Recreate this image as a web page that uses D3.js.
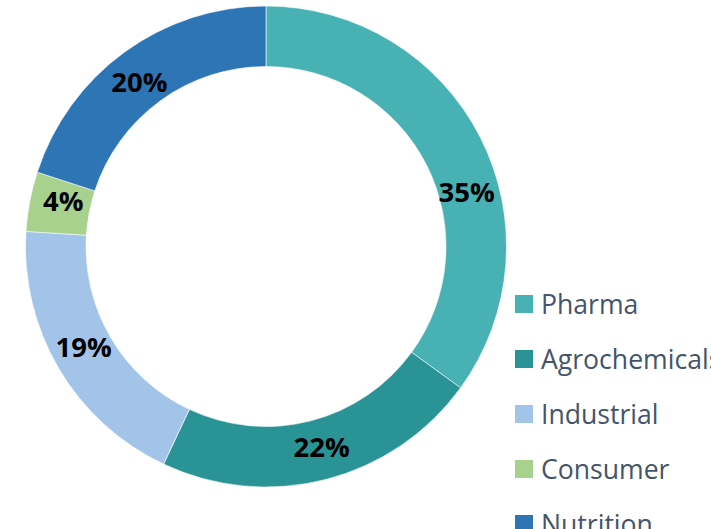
<!DOCTYPE html>
<html><head><meta charset="utf-8">
<script src="https://cdn.jsdelivr.net/npm/d3@7"></script>
<style>html,body{margin:0;padding:0;background:#fff;overflow:hidden}</style>
</head><body>
<svg id="c" width="711" height="529"></svg>
<script>
const categories = ["Pharma", "Agrochemicals", "Industrial", "Consumer", "Nutrition"];
const values = [35, 22, 19, 4, 20];
const labels = ["35%", "22%", "19%", "4%", "20%"];
const colors = ["#47B1B4", "#2A9396", "#A1C4E8", "#A9D18E", "#2E75B6"];

const svg = d3.select("#c");
const cx = 266, cy = 246.5, rOuter = 240.5, rInner = 180;
const g = svg.append("g").attr("transform", `translate(${cx},${cy})`);

const pie = d3.pie().sort(null).value(d => d)(values);
const arc = d3.arc().innerRadius(rInner).outerRadius(rOuter);
const color = d3.scaleOrdinal().domain(categories).range(colors);

g.selectAll("path").data(pie).join("path")
  .attr("d", arc)
  .attr("fill", (d, i) => color(categories[i]))
  .attr("stroke", "#fff").attr("stroke-width", 0.6);

// label placement: mid-angle on ring, with small angular nudges as in the original
const labelShiftDeg = [11.8, -1.1, 1.9, 2.1, -1.5];
const rLab = 208;
const labAngle = (d, i) => (d.startAngle + d.endAngle) / 2 + labelShiftDeg[i] * Math.PI / 180;
g.selectAll("text.lab").data(pie).join("text")
  .attr("class", "lab")
  .attr("x", (d, i) => Math.sin(labAngle(d, i)) * rLab)
  .attr("y", (d, i) => -Math.cos(labAngle(d, i)) * rLab)
  .attr("text-anchor", "middle").attr("dominant-baseline", "central")
  .style("font-family", "'Open Sans', sans-serif").style("font-weight", "bold")
  .style("font-size", "27.5px").attr("fill", "#000")
  .text((d, i) => labels[i]);

// legend
const ly = d3.scalePoint().domain(categories).range([304, 524]);
const leg = svg.append("g");
const item = leg.selectAll("g").data(categories).join("g")
  .attr("transform", d => `translate(515,${ly(d)})`);
item.append("rect").attr("x", 0).attr("y", -9).attr("width", 18).attr("height", 18)
  .attr("fill", d => color(d));
item.append("text").attr("x", 26).attr("y", 0).attr("dominant-baseline", "central")
  .style("font-family", "'Open Sans', sans-serif").style("font-size", "26.6px")
  .attr("fill", "#44546A").text(d => d);
</script>
</body></html>
